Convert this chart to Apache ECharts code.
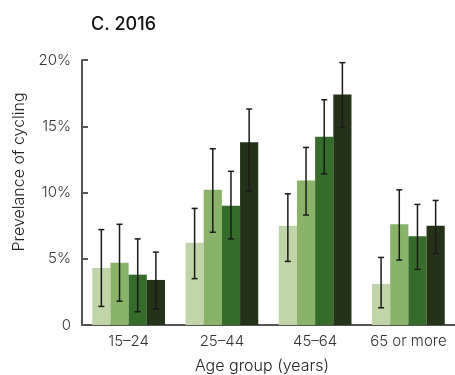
<!DOCTYPE html>
<html><head><meta charset="utf-8">
<script src="https://cdn.jsdelivr.net/npm/echarts@6/dist/echarts.min.js"></script>
<style>html,body{margin:0;padding:0;background:#fff}#c{width:455px;height:375px}</style>
</head><body><div id="c"></div>
<script>
const categories = ['15–24', '25–44', '45–64', '65 or more'];
const yTicks = [0, 5, 10, 15, 20];
const s1 = [4.3, 6.2, 7.5, 3.1];
const s1Low = [1.4, 3.5, 4.8, 1.3];
const s1High = [7.2, 8.8, 9.9, 5.1];
const s2 = [4.7, 10.2, 10.9, 7.6];
const s2Low = [1.8, 7.0, 8.3, 4.9];
const s2High = [7.6, 13.3, 13.4, 10.2];
const s3 = [3.8, 9.0, 14.2, 6.7];
const s3Low = [1.0, 6.5, 11.4, 4.2];
const s3High = [6.5, 11.6, 17.0, 9.1];
const s4 = [3.4, 13.8, 17.4, 7.5];
const s4Low = [1.2, 10.1, 14.9, 5.4];
const s4High = [5.5, 16.3, 19.8, 9.4];
const colors = ['#bfd5a9', '#8ab36a', '#356b2b', '#243318'];

const vals = [s1, s2, s3, s4];
const lows = [s1Low, s2Low, s3Low, s4Low];
const highs = [s1High, s2High, s3High, s4High];
const GAP = 0.22;
const FONT = 'Inter, "Open Sans", sans-serif';

const chart = echarts.init(document.getElementById('c'));
const series = [];
vals.forEach((v, i) => {
  series.push({ type: 'bar', data: v, itemStyle: { color: colors[i] }, barGap: '0%', barCategoryGap: (GAP * 100) + '%', z: 2 });
});
vals.forEach((v, i) => {
  series.push({
    type: 'custom', z: 5,
    data: categories.map((c, k) => [k, lows[i][k], highs[i][k]]),
    renderItem: function (params, api) {
      const band = api.size([1, 0])[0];
      const bw = band * (1 - GAP) / 4;
      const off = (i - 1.5) * bw;
      const lo = api.coord([api.value(0), api.value(1)]);
      const hi = api.coord([api.value(0), api.value(2)]);
      const x = lo[0] + off;
      const cap = 3;
      const st = { stroke: '#1a1a1a', lineWidth: 1.5 };
      return { type: 'group', children: [
        { type: 'line', shape: { x1: x, y1: lo[1], x2: x, y2: hi[1] }, style: st },
        { type: 'line', shape: { x1: x - cap, y1: lo[1], x2: x + cap, y2: lo[1] }, style: st },
        { type: 'line', shape: { x1: x - cap, y1: hi[1], x2: x + cap, y2: hi[1] }, style: st }
      ]};
    }
  });
});

chart.setOption({
  animation: false,
  title: { text: 'C. 2016', left: 86, top: 11, textStyle: { fontFamily: FONT, fontSize: 18, fontWeight: 500, color: '#111' } },
  grid: { left: 82, top: 60, bottom: 50, width: 384 },
  xAxis: {
    type: 'category', data: categories,
    axisLine: { lineStyle: { color: '#555', width: 2 } },
    axisTick: { show: false },
    axisLabel: { interval: 0, fontFamily: FONT, fontWeight: 300, fontSize: 15, color: '#333', margin: 9 }
  },
  yAxis: {
    type: 'value', min: yTicks[0], max: yTicks[yTicks.length - 1], interval: 5,
    axisLine: { show: true, lineStyle: { color: '#555', width: 2 } },
    axisTick: { show: true, inside: true, length: 6, lineStyle: { color: '#555', width: 2 } },
    splitLine: { show: false },
    axisLabel: { fontFamily: FONT, fontWeight: 300, fontSize: 15, color: '#333', margin: 11,
      formatter: v => v === 0 ? '0' : v + '%' }
  },
  graphic: [
    { type: 'text', x: 19, y: 172, rotation: Math.PI / 2,
      style: { text: 'Prevelance of cycling', fontFamily: FONT, fontWeight: 300, fontSize: 16, fill: '#222', align: 'center', verticalAlign: 'middle' } },
    { type: 'text', x: 262, y: 366,
      style: { text: 'Age group (years)', fontFamily: FONT, fontWeight: 300, fontSize: 16, fill: '#222', align: 'center', verticalAlign: 'middle' } }
  ],
  series: series
});
</script></body></html>
